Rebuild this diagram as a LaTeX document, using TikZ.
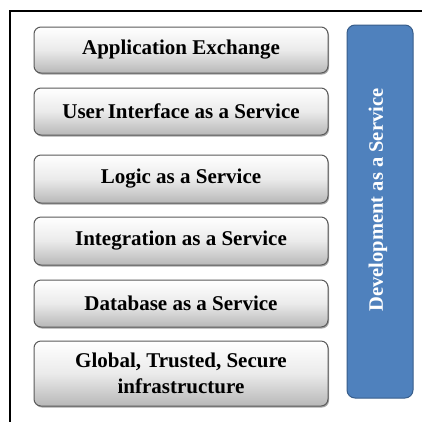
\documentclass[tikz,border=0pt]{standalone}
\usepackage{fontspec}
\setmainfont{Liberation Serif}
\usetikzlibrary{shadows}
\definecolor{dasblue}{HTML}{4F81BD}
\definecolor{dasborder}{HTML}{385D8A}
\definecolor{boxborder}{HTML}{5A5A5A}
\tikzset{
  layer/.style={draw=boxborder, line width=1pt, rounded corners=7pt,
    top color=white, bottom color=black!28, middle color=black!8,
    minimum width=294pt, inner sep=0pt, align=center,
    font=\fontsize{21}{26}\selectfont\bfseries,
    drop shadow={shadow xshift=1pt, shadow yshift=-1.5pt, opacity=0.35, fill=black}},
  devbar/.style={draw=dasborder, line width=1pt, rounded corners=8pt, fill=dasblue,
    minimum width=66pt, minimum height=373pt, inner sep=0pt},
  frame/.style={draw=black, line width=2pt}
}
\begin{document}
\begin{tikzpicture}[x=1pt,y=-1pt]
\useasboundingbox (0,0) rectangle (422,421);
\clip (0,0) rectangle (422,421);
\fill[white] (0,0) rectangle (422,421);
\coordinate (fbl) at (10,425);
\coordinate (ftl) at (10,11);
\coordinate (ftr) at (425,11);
\draw[frame] (fbl) -- (ftl) -- (ftr);
\node[layer, minimum height=46pt] (appx) at (181,50) {Application Exchange};
\node[layer, minimum height=47pt] (uiaas) at (181,111.5) {User\,Interface as a Service};
\node[layer, minimum height=48pt] (laas) at (181,179) {Logic as a Service};
\node[layer, minimum height=48pt] (iaas) at (181,241) {Integration as a Service};
\node[layer, minimum height=47pt] (dbaas) at (181,303.5) {Database as a Service};
\node[layer, minimum height=65pt] (gtsi) at (181,373.5) {Global, Trusted, Secure\\infrastructure};
\node[devbar] (daas) at (380,211.5) {};
\node[rotate=90, text=white, font=\fontsize{20.5}{24}\selectfont\bfseries, inner sep=0pt] (daastxt) at (378,200) {Development as a Service};
\end{tikzpicture}
\end{document}
